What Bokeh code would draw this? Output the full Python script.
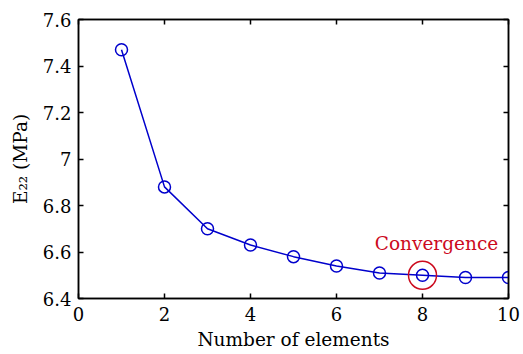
from bokeh.plotting import figure
from bokeh.models import LinearAxis, FixedTicker, CustomJSTickFormatter, Range1d, Label
from bokeh.embed import file_html
from bokeh.resources import INLINE

elements = [1, 2, 3, 4, 5, 6, 7, 8, 9, 10]
e22 = [7.47, 6.88, 6.70, 6.63, 6.58, 6.54, 6.51, 6.50, 6.49, 6.49]
conv_x = [8]
conv_y = [6.50]
x_ticks = [0, 2, 4, 6, 8, 10]
y_ticks = [6.4, 6.6, 6.8, 7.0, 7.2, 7.4, 7.6]

FONT = "DejaVu Serif"
BLUE = "#0000cc"
RED = "#cc0a1e"

p = figure(width=523, height=354, output_backend="svg", toolbar_location=None,
           x_range=Range1d(0, 10), y_range=Range1d(6.4, 7.6),
           min_border_left=78, min_border_right=15, min_border_top=19, min_border_bottom=56)
p.xgrid.visible = False
p.ygrid.visible = False
p.outline_line_color = "black"
p.outline_line_width = 1.5

fmt = CustomJSTickFormatter(code="return (Math.round(tick*10)/10).toString();")
blank = CustomJSTickFormatter(code="return '';")

def style(ax):
    ax.major_tick_in = 5
    ax.major_tick_out = 0
    ax.minor_tick_line_color = None
    ax.axis_line_width = 1.5
    ax.major_tick_line_width = 1.5
    ax.major_label_text_font = FONT
    ax.major_label_text_font_size = "18px"
    ax.major_label_text_color = "black"
    ax.axis_label_text_font = FONT
    ax.axis_label_text_font_size = "18.5px"
    ax.axis_label_text_font_style = "normal"
    ax.axis_label_text_color = "black"

p.xaxis.ticker = FixedTicker(ticks=x_ticks)
p.yaxis.ticker = FixedTicker(ticks=y_ticks)
p.yaxis.formatter = fmt
p.xaxis.axis_label = "Number of elements"
p.yaxis.axis_label = "E₂₂ (MPa)"
style(p.xaxis[0])
style(p.yaxis[0])
p.xaxis.major_label_standoff = 8
p.yaxis.major_label_standoff = 7
p.xaxis.axis_label_standoff = 5
p.yaxis.axis_label_standoff = 9

top = LinearAxis(ticker=FixedTicker(ticks=x_ticks), formatter=blank)
style(top)
p.add_layout(top, "above")
right = LinearAxis(ticker=FixedTicker(ticks=y_ticks), formatter=blank)
style(right)
p.add_layout(right, "right")

p.line(elements, e22, line_color=BLUE, line_width=1.5)
p.scatter(elements, e22, marker="circle", size=12, fill_color=None,
          line_color=BLUE, line_width=1.5)
p.scatter(conv_x, conv_y, marker="circle", size=28, fill_color=None,
          line_color=RED, line_width=1.5)
p.add_layout(Label(x=conv_x[0], y=conv_y[0], text="Convergence", x_offset=14, y_offset=32,
                   text_align="center", text_baseline="middle", text_color=RED,
                   text_font=FONT, text_font_size="18.5px"))

open("out.html", "w").write(file_html(p, INLINE))
